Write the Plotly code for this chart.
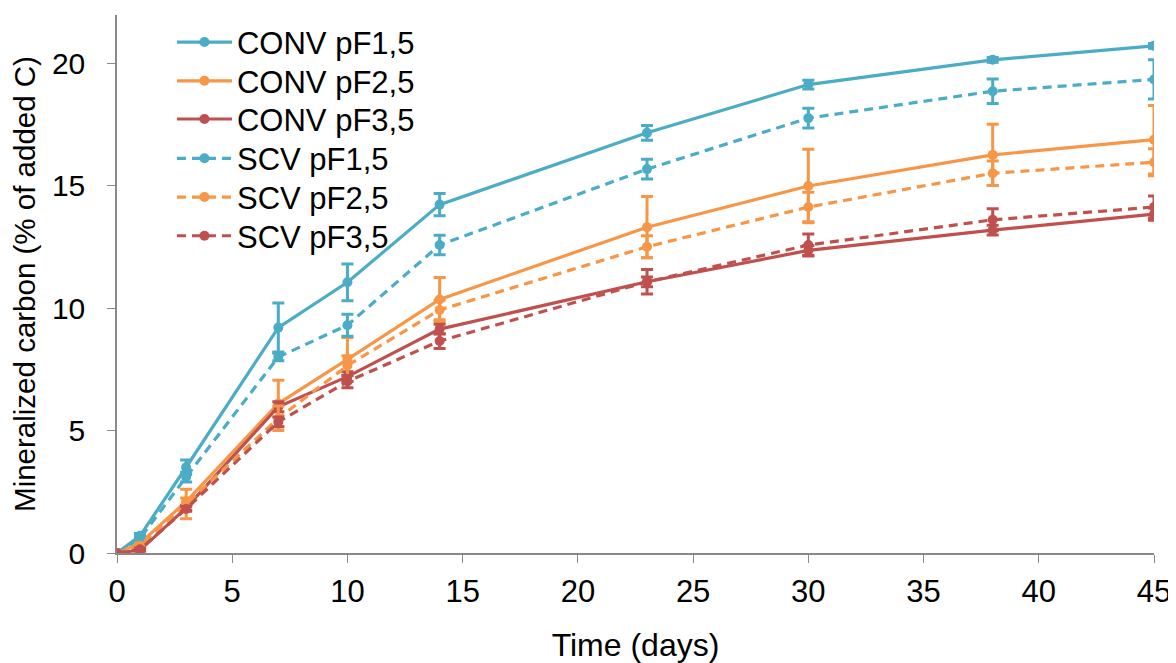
import plotly.graph_objects as go

time = [0, 1, 3, 7, 10, 14, 23, 30, 38, 45]

conv_pf15 = [0, 0.7, 3.5, 9.2, 11.05, 14.22, 17.15, 19.12, 20.13, 20.7]
conv_pf15_err = [0, 0.1, 0.3, 1.0, 0.75, 0.45, 0.3, 0.18, 0.1, 0.1]
conv_pf25 = [0, 0.4, 2.1, 6.1, 7.9, 10.35, 13.3, 14.98, 16.25, 16.87]
conv_pf25_err = [0, 0.1, 0.15, 0.95, 0.9, 0.9, 1.25, 1.5, 1.25, 1.4]
conv_pf35 = [0, 0.12, 1.84, 5.97, 7.2, 9.14, 11.07, 12.35, 13.18, 13.83]
conv_pf35_err = [0, 0.05, 0.1, 0.2, 0.2, 0.2, 0.2, 0.2, 0.2, 0.25]
scv_pf15 = [0, 0.6, 3.1, 8.0, 9.3, 12.57, 15.67, 17.75, 18.85, 19.33]
scv_pf15_err = [0, 0.1, 0.2, 0.15, 0.45, 0.4, 0.4, 0.4, 0.5, 0.8]
scv_pf25 = [0, 0.3, 2.0, 5.5, 7.65, 9.92, 12.5, 14.12, 15.5, 15.95]
scv_pf25_err = [0, 0.1, 0.6, 0.5, 0.4, 0.4, 0.45, 0.6, 0.5, 0.55]
scv_pf35 = [0, 0.15, 1.8, 5.35, 7.0, 8.65, 11.07, 12.57, 13.6, 14.12]
scv_pf35_err = [0, 0.05, 0.1, 0.2, 0.25, 0.3, 0.5, 0.45, 0.45, 0.45]

x_ticks = [0, 5, 10, 15, 20, 25, 30, 35, 40, 45]
y_ticks = [0, 5, 10, 15, 20]

names = ["CONV pF1,5", "CONV pF2,5", "CONV pF3,5", "SCV pF1,5", "SCV pF2,5", "SCV pF3,5"]
series = [conv_pf15, conv_pf25, conv_pf35, scv_pf15, scv_pf25, scv_pf35]
errors = [conv_pf15_err, conv_pf25_err, conv_pf35_err, scv_pf15_err, scv_pf25_err, scv_pf35_err]
colors = ["#4BACC6", "#F79646", "#C0504D", "#4BACC6", "#F79646", "#C0504D"]
dashes = ["solid", "solid", "solid", "9px,6px", "9px,6px", "9px,6px"]

reg = "Liberation Sans, Arial, sans-serif"

# one single-entry legend per series so the entry spacing matches the reference
legend_ids = ["legend", "legend2", "legend3", "legend4", "legend5", "legend6"]
legend_y = [0.949, 0.877, 0.806, 0.733, 0.661, 0.589]

fig = go.Figure()
for name, y, e, c, d, lg in zip(names, series, errors, colors, dashes, legend_ids):
    fig.add_trace(go.Scatter(
        x=time, y=y, name=name, mode="lines+markers", legend=lg,
        line=dict(color=c, width=3.2, dash=d),
        marker=dict(color=c, size=10, symbol="circle"),
        error_y=dict(type="data", array=e, visible=True, color=c, thickness=3, width=6),
    ))

legend_style = dict(x=0.053, xanchor="left", yanchor="middle", bgcolor="rgba(0,0,0,0)",
                    font=dict(family=reg, size=31, color="black"), itemwidth=55,
                    borderwidth=0)
layout_legends = {lg: dict(legend_style, y=ly) for lg, ly in zip(legend_ids, legend_y)}

fig.update_layout(
    width=1176, height=663,
    paper_bgcolor="white", plot_bgcolor="white",
    margin=dict(l=109, r=30, t=7, b=118),
    font=dict(family=reg, size=24, color="black"),
    showlegend=True,
    xaxis=dict(range=[0, 45], tickvals=x_ticks, automargin=False,
               showgrid=False, zeroline=False, showline=True, linecolor="#898989",
               linewidth=1.5, ticks="outside", ticklen=8, tickcolor="#898989",
               ticklabelstandoff=2,
               tickfont=dict(family=reg, size=31, color="black"),
               title=dict(text="Time (days)", font=dict(family=reg, size=32, color="black"), standoff=26)),
    yaxis=dict(range=[0, 21.96], tickvals=y_ticks, automargin=False,
               showgrid=False, zeroline=False, showline=True, linecolor="#898989",
               linewidth=1.5, ticks="outside", ticklen=8, tickcolor="#898989",
               ticklabelstandoff=16,
               tickfont=dict(family=reg, size=30, color="black"),
               title=dict(text="Mineralized carbon (% of added C)", font=dict(family=reg, size=29.5, color="black"), standoff=23)),
    **layout_legends,
)

fig.write_html("out.html")
